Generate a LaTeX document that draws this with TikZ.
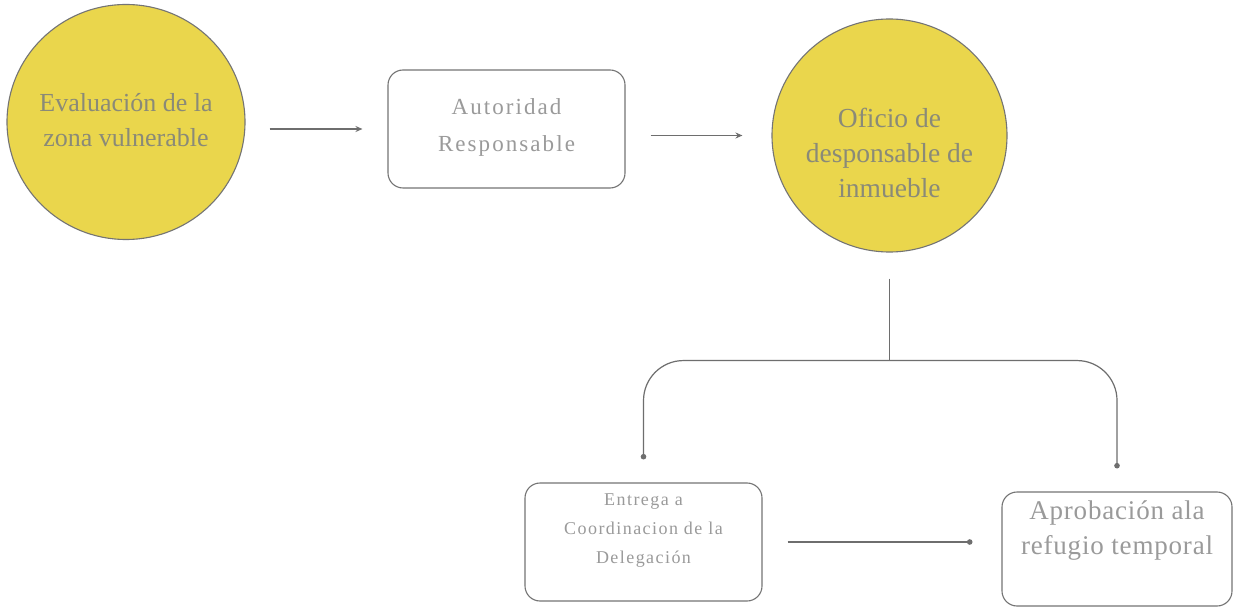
\documentclass[tikz,border=0pt]{standalone}
\usepackage{fontspec}
\setmainfont{Liberation Serif}
\usetikzlibrary{shapes.geometric,arrows.meta}
\definecolor{yel}{HTML}{EAD64C}
\definecolor{edge}{HTML}{747474}
\definecolor{lnc}{HTML}{6E6E6E}
\definecolor{ctext}{HTML}{8A8A78}
\definecolor{btext}{HTML}{9A9A9A}
\tikzset{
  ell/.style={ellipse, draw=edge, line width=1.1pt, fill=yel, inner sep=0pt},
  rbox/.style={rectangle, rounded corners=15pt, draw=edge, line width=1.1pt, fill=white, inner sep=0pt},
  ctxt/.style={align=center, text=ctext, inner sep=0pt},
  btxt/.style={align=center, text=btext, inner sep=0pt},
  conn/.style={draw=lnc, line width=1.2pt},
  arr/.style={conn, -{Stealth[length=7pt,width=6pt]}},
  dotarr/.style={conn, -{Circle[length=5.5pt]}}
}
\begin{document}
\begin{tikzpicture}[x=1pt,y=-1pt]
\useasboundingbox (0,0) rectangle (1233,609);
\fill[white] (0,0) rectangle (1233,609);

% shapes
\node[ell, minimum width=238pt, minimum height=235pt] (evz) at (126,122) {};
\node[rbox, minimum width=237pt, minimum height=118pt] (aut) at (506.5,129) {};
\node[ell, minimum width=235pt, minimum height=233pt] (odc) at (889.5,135.5) {};
\node[rbox, minimum width=237pt, minimum height=118pt] (ent) at (643.5,542) {};
\node[rbox, minimum width=230pt, minimum height=114pt] (apr) at (1117,549) {};

% texts
\node[ctxt, font=\fontsize{26}{35}\selectfont] (tevz) at ([yshift=2pt]evz.center) {Evaluación de la\\zona vulnerable};
\node[btxt, font=\fontsize{23}{37}\selectfont\addfontfeature{LetterSpace=9}] (taut) at ([yshift=2pt]aut.center) {Autoridad\\Responsable};
\node[ctxt, font=\fontsize{27.5}{35}\selectfont] (todc) at ([yshift=-17pt]odc.center) {Oficio de\\desponsable de\\inmueble};
\node[btxt, font=\fontsize{18}{29}\selectfont\addfontfeature{LetterSpace=8}] (tent) at ([yshift=11pt]ent.center) {Entrega a\\Coordinacion de la\\Delegación};
\node[btxt, font=\fontsize{27}{35}\selectfont\addfontfeature{LetterSpace=3}] (tapr) at ([yshift=18pt]apr.center) {Aprobación ala\\refugio temporal};

% connectors
\draw[arr, shorten <=24pt, shorten >=25pt] (evz.east |- aut.west) -- (aut.west);
\draw[arr, shorten <=25pt, shorten >=29pt] (aut.east |- odc.west) -- (odc.west);

\coordinate (j) at ([yshift=-108pt]odc.south);
\draw[conn, shorten <=26pt] (odc.south) -- (j);
\draw[dotarr, rounded corners=40pt, shorten >=23pt] (j) -| (ent.north);
\draw[dotarr, rounded corners=40pt, shorten >=23pt] (j) -| (apr.north);

\draw[dotarr, shorten <=25pt, shorten >=29pt] (ent.east) -- (ent.east -| apr.west);
\end{tikzpicture}
\end{document}
